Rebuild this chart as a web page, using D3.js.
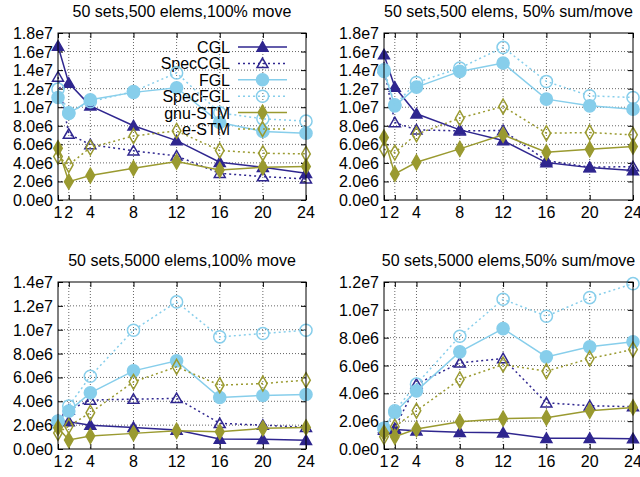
<!DOCTYPE html>
<html lang="en">
<head>
<meta charset="UTF-8">
<title>Set move throughput</title>
<script src="https://cdn.jsdelivr.net/npm/d3@7/dist/d3.min.js"></script>
<style>
    body { margin: 0; background: #fff; }
    text { font-family: "Liberation Sans", Arial, sans-serif; font-size: 16px; fill: #000; }
</style>
</head>
<body>
<svg width="640" height="477"></svg>
<script>
// thread counts on x
const threads = [1, 2, 4, 8, 12, 16, 20, 24];
const seriesNames = ["CGL", "SpecCGL", "FGL", "SpecFGL", "gnu-STM", "e-STM"];
const titles = ["50 sets,500 elems,100% move", "50 sets,500 elems, 50% sum/move",
    "50 sets,5000 elems,100% move", "50 sets,5000 elems,50% sum/move"];
const yMaxes = [1.8e7, 1.8e7, 1.4e7, 1.2e7];

// panel 1: 500 elems, 100% move
const p1CGL = [16.6e6, 12.6e6, 10.15e6, 8.0e6, 6.4e6, 4.07e6, 3.53e6, 2.88e6];
const p1SpecCGL = [13.25e6, 7.1e6, 5.98e6, 5.3e6, 4.75e6, 2.88e6, 2.52e6, 2.27e6];
const p1FGL = [11.05e6, 9.32e6, 10.8e6, 11.6e6, 12.1e6, 8.35e6, 7.38e6, 7.2e6];
const p1SpecFGL = [11.95e6, 9.4e6, 10.6e6, 11.7e6, 13.7e6, 9.4e6, 8.75e6, 8.5e6];
const p1GnuSTM = [5.58e6, 1.98e6, 2.63e6, 3.42e6, 4.14e6, 3.24e6, 3.53e6, 3.6e6];
const p1ESTM = [4.68e6, 3.78e6, 5.65e6, 6.9e6, 7.45e6, 5.33e6, 5.04e6, 4.97e6];

// panel 2: 500 elems, 50% sum/move
const p2CGL = [15.66e6, 12.17e6, 9.29e6, 7.56e6, 6.41e6, 4.03e6, 3.49e6, 3.17e6];
const p2SpecCGL = [14.2e6, 8.35e6, 7.56e6, 7.45e6, 7.49e6, 4.25e6, 3.53e6, 3.6e6];
const p2FGL = [13.86e6, 10.15e6, 12.17e6, 13.86e6, 14.76e6, 10.87e6, 10.15e6, 9.79e6];
const p2SpecFGL = [14.04e6, 10.26e6, 12.67e6, 14.22e6, 16.45e6, 12.78e6, 11.23e6, 11.05e6];
const p2GnuSTM = [6.73e6, 2.81e6, 4.07e6, 5.51e6, 7.02e6, 5.15e6, 5.47e6, 5.76e6];
const p2ESTM = [5.47e6, 5.11e6, 7.09e6, 8.82e6, 10.08e6, 7.2e6, 7.27e6, 7.02e6];

// panel 3: 5000 elems, 100% move
const p3CGL = [2.35e6, 2.29e6, 2.0e6, 1.81e6, 1.59e6, 0.84e6, 0.81e6, 0.73e6];
const p3SpecCGL = [2.4e6, 3.26e6, 4.1e6, 4.18e6, 4.24e6, 2.15e6, 2.0e6, 1.81e6];
const p3FGL = [2.35e6, 3.18e6, 4.71e6, 6.55e6, 7.39e6, 4.32e6, 4.49e6, 4.57e6];
const p3SpecFGL = [2.3e6, 3.6e6, 6.1e6, 9.96e6, 12.33e6, 9.4e6, 9.68e6, 9.96e6];
const p3GnuSTM = [1.78e6, 0.75e6, 1.09e6, 1.31e6, 1.53e6, 1.45e6, 1.73e6, 1.81e6];
const p3ESTM = [1.35e6, 1.92e6, 3.04e6, 5.63e6, 6.89e6, 5.35e6, 5.49e6, 5.77e6];

// panel 4: 5000 elems, 50% sum/move
const p4CGL = [1.48e6, 1.41e6, 1.31e6, 1.2e6, 1.17e6, 0.77e6, 0.77e6, 0.74e6];
const p4SpecCGL = [1.36e6, 1.48e6, 4.66e6, 6.19e6, 6.5e6, 3.32e6, 3.11e6, 3.04e6];
const p4FGL = [1.48e6, 2.63e6, 4.18e6, 6.98e6, 8.65e6, 6.62e6, 7.34e6, 7.7e6];
const p4SpecFGL = [1.48e6, 2.75e6, 4.66e6, 8.1e6, 10.76e6, 9.54e6, 10.88e6, 11.88e6];
const p4GnuSTM = [1.17e6, 0.88e6, 1.43e6, 1.96e6, 2.18e6, 2.25e6, 2.75e6, 2.99e6];
const p4ESTM = [0.88e6, 1.6e6, 2.75e6, 5.0e6, 6.07e6, 5.59e6, 6.5e6, 7.15e6];

const panelData = [
    [p1CGL, p1SpecCGL, p1FGL, p1SpecFGL, p1GnuSTM, p1ESTM],
    [p2CGL, p2SpecCGL, p2FGL, p2SpecFGL, p2GnuSTM, p2ESTM],
    [p3CGL, p3SpecCGL, p3FGL, p3SpecFGL, p3GnuSTM, p3ESTM],
    [p4CGL, p4SpecCGL, p4FGL, p4SpecFGL, p4GnuSTM, p4ESTM]
];

const blue = "#2f268f", sky = "#87ceeb", olive = "#9a9a30";
const styles = [
    { color: blue, dash: null, shape: "tri", filled: true },
    { color: blue, dash: "2,3", shape: "tri", filled: false },
    { color: sky, dash: null, shape: "circle", filled: true },
    { color: sky, dash: "2,3", shape: "circle", filled: false },
    { color: olive, dash: null, shape: "diamond", filled: true },
    { color: olive, dash: "2,3", shape: "diamond", filled: false }
];

const boxes = [
    { left: 58, right: 306, top: 33, bottom: 200 },
    { left: 384, right: 633, top: 33, bottom: 200 },
    { left: 58, right: 306, top: 282, bottom: 449 },
    { left: 384, right: 633, top: 282, bottom: 449 }
];

const svg = d3.select("svg");

function expFmt(d) {
    if (d === 0) return "0.0e0";
    const e = Math.floor(Math.log10(d) + 1e-9);
    return (d / Math.pow(10, e)).toFixed(1) + "e" + e;
}

const symbols = {
    tri: d3.symbol().type(d3.symbolTriangle).size(52),
    circle: d3.symbol().type(d3.symbolCircle).size(115),
    diamond: d3.symbol().type(d3.symbolDiamond).size(64)
};

function drawMarkers(g, pts, st) {
    g.selectAll(null).data(pts).enter().append("path")
        .attr("d", symbols[st.shape]())
        .attr("transform", d => `translate(${d[0]},${d[1]})` + (st.shape == "tri" ? "translate(0,1)" : ""))
        .attr("fill", st.filled ? st.color : "none")
        .attr("stroke", st.color)
        .attr("stroke-width", 1.5);
}

boxes.forEach((b, pi) => {
    const g = svg.append("g");
    const x = d3.scaleLinear().domain([1, 24]).range([b.left, b.right]);
    const y = d3.scaleLinear().domain([0, yMaxes[pi]]).range([b.bottom, b.top]);
    const yTicks = d3.range(0, yMaxes[pi] + 1, 2e6);

    // grid
    g.selectAll(null).data(threads.slice(1, -1)).enter().append("line")
        .attr("x1", d => x(d)).attr("x2", d => x(d))
        .attr("y1", b.top).attr("y2", b.bottom)
        .attr("stroke", "#666").attr("stroke-dasharray", "1,2");
    g.selectAll(null).data(yTicks.slice(1, -1)).enter().append("line")
        .attr("x1", b.left).attr("x2", b.right)
        .attr("y1", d => y(d)).attr("y2", d => y(d))
        .attr("stroke", "#666").attr("stroke-dasharray", "1,2");

    // inward ticks on all sides
    const xAxB = d3.axisBottom(x).tickValues(threads).tickSize(-5).tickFormat("");
    const xAxT = d3.axisTop(x).tickValues(threads).tickSize(-5).tickFormat("");
    const yAxL = d3.axisLeft(y).tickValues(yTicks).tickSize(-5).tickFormat("");
    const yAxR = d3.axisRight(y).tickValues(yTicks).tickSize(-5).tickFormat("");
    [[xAxB, `translate(0,${b.bottom})`], [xAxT, `translate(0,${b.top})`],
     [yAxL, `translate(${b.left},0)`], [yAxR, `translate(${b.right},0)`]].forEach(a => {
        const ag = g.append("g").attr("transform", a[1]).call(a[0]);
        ag.select(".domain").remove();
        ag.selectAll("line").attr("stroke", "#000");
    });

    // tick labels
    g.selectAll(null).data(threads).enter().append("text")
        .attr("x", d => x(d)).attr("y", b.bottom + 18)
        .attr("text-anchor", "middle").text(d => d);
    g.selectAll(null).data(yTicks).enter().append("text")
        .attr("x", b.left - 5).attr("y", d => y(d) + 6)
        .attr("text-anchor", "end").text(expFmt);

    // title
    g.append("text").attr("x", (b.left + b.right) / 2).attr("y", b.top - 16)
        .attr("text-anchor", "middle").text(titles[pi]);

    const line = d3.line().x((d, i) => x(threads[i])).y(d => y(d));

    panelData[pi].forEach((vals, si) => {
        const st = styles[si];
        // legend entry only in first panel
        if (pi == 0) {
            const ly = 47 + si * 16.4;
            g.append("text").attr("x", 230).attr("y", ly + 6)
                .attr("text-anchor", "end").text(seriesNames[si]);
            g.append("line").attr("x1", 238).attr("x2", 287)
                .attr("y1", ly).attr("y2", ly)
                .attr("stroke", st.color).attr("stroke-width", 1.5)
                .attr("stroke-dasharray", st.dash);
            drawMarkers(g, [[262.5, ly]], st);
        }
        g.append("path").attr("d", line(vals))
            .attr("fill", "none").attr("stroke", st.color)
            .attr("stroke-width", 1.5).attr("stroke-dasharray", st.dash);
        drawMarkers(g, vals.map((v, i) => [x(threads[i]), y(v)]), st);
    });

    // border
    g.append("rect").attr("x", b.left).attr("y", b.top)
        .attr("width", b.right - b.left).attr("height", b.bottom - b.top)
        .attr("fill", "none").attr("stroke", "#000").attr("stroke-width", 1);
});
</script>
</body>
</html>
